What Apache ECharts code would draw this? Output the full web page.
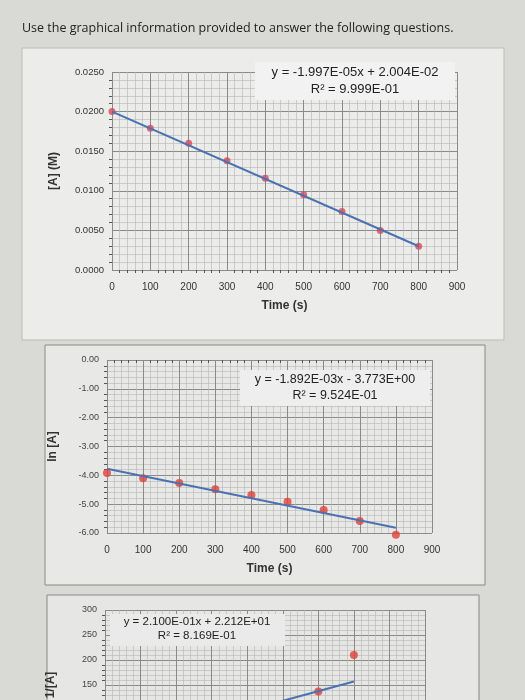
<!DOCTYPE html>
<html><head><meta charset="utf-8">
<script src="https://cdn.jsdelivr.net/npm/echarts@6/dist/echarts.min.js"></script>
<style>html,body{margin:0;padding:0;background:#d9d9d6;overflow:hidden}#c{width:525px;height:800px}</style>
</head><body><div id="c"></div>
<script>
const times = [0,100,200,300,400,500,600,700,800];
const concA = [0.0200,0.0179,0.0160,0.0138,0.0116,0.0095,0.0074,0.0050,0.0030];
const lnA = [-3.92,-4.10,-4.27,-4.48,-4.68,-4.92,-5.20,-5.58,-6.06];
const invTimes = [0,100,200,300,400,500,600,700];
const invA = [50,56,63,73,86,105,137,210];
const fit1 = [[0,0.0200],[800,0.0030]];
const fit2 = [[0,-3.773],[800,-5.82]];
const fit3 = [[0,22.12],[700,157]];
const eq1 = ['y = -1.997E-05x + 2.004E-02','R² = 9.999E-01'];
const eq2 = ['y = -1.892E-03x - 3.773E+00','R² = 9.524E-01'];
const eq3 = ['y = 2.100E-01x + 2.212E+01','R² = 8.169E-01'];

const c = echarts.init(document.getElementById('c'));
const gridLine = {show:true,lineStyle:{color:'#8a8a8a',width:1}};
const minorLine = {show:true,lineStyle:{color:'#b5b5b5',width:0.6}};
function xAx(i,showName){return {gridIndex:i,type:'value',min:0,max:900,interval:100,minorTick:{show:true,splitNumber:5},
 splitLine:gridLine,minorSplitLine:minorLine,axisLine:{show:false},axisTick:{show:false},
 axisLabel:{color:'#333',fontSize:10,margin:12},name:showName?'Time (s)':'',nameLocation:'middle',nameGap:30,
 nameTextStyle:{fontSize:12,fontWeight:'bold',color:'#333'}};}
c.setOption({
 animation:false,
 graphic:[
  {type:'text',left:22,top:22,style:{text:'Use the graphical information provided to answer the following questions.',fontSize:12.5,fill:'#222',fontFamily:'Open Sans'}},
  {type:'rect',shape:{x:22,y:48,width:482,height:292},style:{fill:'#ececea',stroke:'#bbb'},z:-10},
  {type:'rect',shape:{x:45,y:345,width:440,height:240},style:{fill:'#e8e8e6',stroke:'#888'},z:-10},
  {type:'rect',shape:{x:47,y:595,width:432,height:160},style:{fill:'#e6e6e4',stroke:'#888'},z:-10},
  {type:'rect',shape:{x:255,y:62,width:200,height:38},style:{fill:'#f2f2f2'},z:5},
  {type:'text',x:355,y:64,style:{text:eq1.join('\n'),fontSize:13,lineHeight:17,align:'center',fill:'#222'},z:6},
  {type:'rect',shape:{x:240,y:370,width:190,height:36},style:{fill:'#eeeeee'},z:5},
  {type:'text',x:335,y:372,style:{text:eq2.join('\n'),fontSize:12.5,lineHeight:16,align:'center',fill:'#222'},z:6},
  {type:'rect',shape:{x:110,y:614,width:175,height:32},style:{fill:'#eaeaea'},z:5},
  {type:'text',x:197,y:615,style:{text:eq3.join('\n'),fontSize:11.5,lineHeight:14,align:'center',fill:'#222'},z:6}
 ],
 grid:[{left:112,top:72,width:345,height:198},{left:107,top:360,width:325,height:173},{left:105,top:610,width:320,height:150}],
 xAxis:[xAx(0,true),xAx(1,true),xAx(2,false)],
 yAxis:[
  {gridIndex:0,type:'value',min:0,max:0.025,interval:0.005,minorTick:{show:true,splitNumber:5},splitLine:gridLine,minorSplitLine:minorLine,
   axisLine:{show:false},axisTick:{show:false},axisLabel:{fontSize:9.5,color:'#333',formatter:v=>v.toFixed(4)},
   name:'[A] (M)',nameLocation:'middle',nameGap:52,nameTextStyle:{fontSize:12,fontWeight:'bold',color:'#333'}},
  {gridIndex:1,type:'value',min:-6,max:0,interval:1,minorTick:{show:true,splitNumber:5},splitLine:gridLine,minorSplitLine:minorLine,
   axisLine:{show:false},axisTick:{show:false},axisLabel:{fontSize:9,color:'#444',formatter:v=>v.toFixed(2)},
   name:'ln [A]',nameLocation:'middle',nameGap:48,nameTextStyle:{fontSize:12,fontWeight:'bold',color:'#333'}},
  {gridIndex:2,type:'value',min:0,max:300,interval:50,minorTick:{show:true,splitNumber:5},splitLine:gridLine,minorSplitLine:minorLine,
   axisLine:{show:false},axisTick:{show:false},axisLabel:{fontSize:9,color:'#444'},
   name:'1/[A]',nameLocation:'middle',nameGap:48,nameTextStyle:{fontSize:12,fontWeight:'bold',color:'#333'}}
 ],
 series:[
  {type:'line',xAxisIndex:0,yAxisIndex:0,data:fit1,symbol:'none',lineStyle:{color:'#4a72b0',width:2}},
  {type:'scatter',clip:false,xAxisIndex:0,yAxisIndex:0,data:times.map((t,i)=>[t,concA[i]]),symbolSize:7,itemStyle:{color:'#d9485a'}},
  {type:'line',xAxisIndex:1,yAxisIndex:1,data:fit2,symbol:'none',lineStyle:{color:'#4a72b0',width:2}},
  {type:'scatter',clip:false,xAxisIndex:1,yAxisIndex:1,data:times.map((t,i)=>[t,lnA[i]]),symbolSize:8,itemStyle:{color:'#e0403a'}},
  {type:'line',xAxisIndex:2,yAxisIndex:2,data:fit3,symbol:'none',lineStyle:{color:'#4a72b0',width:2}},
  {type:'scatter',clip:false,xAxisIndex:2,yAxisIndex:2,data:invTimes.map((t,i)=>[t,invA[i]]),symbolSize:8,itemStyle:{color:'#e0403a'}}
 ]
});
</script></body></html>
